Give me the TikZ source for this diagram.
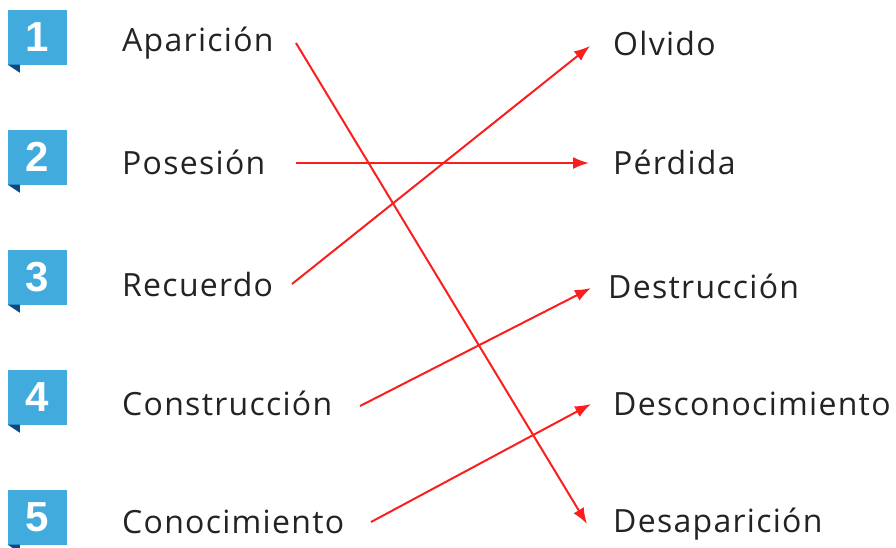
\documentclass[tikz,border=0pt]{standalone}
\usepackage{fontspec}
\setmainfont{Open Sans}[LetterSpace=4]
\newfontfamily\numfont{Liberation Sans}
\usepackage{xcolor}
\usepackage{tikz}
\usetikzlibrary{positioning}
\usetikzlibrary{arrows.meta}
\usetikzlibrary{calc}
\definecolor{boxblue}{RGB}{66,171,222}
\definecolor{flagblue}{RGB}{12,72,135}
\definecolor{linkred}{RGB}{250,30,30}
\definecolor{wordgray}{RGB}{35,35,35}
\tikzset{numbox/.style={fill=boxblue, minimum width=59pt, minimum height=55pt, inner sep=0pt, text=white, font=\numfont\bfseries\fontsize{42}{42}\selectfont}}
\tikzset{word/.style={anchor=west, inner sep=0pt, text=wordgray, font=\fontsize{32}{32}\selectfont}}
\tikzset{link/.style={draw=linkred, line width=2pt, -{Latex[length=16pt,width=12pt]}}}

\begin{document}
\begin{tikzpicture}[x=1pt, y=-1pt]
\useasboundingbox (0,0) rectangle (896,547);
\foreach \n/\y in {1/37, 2/157, 3/277, 4/397, 5/517} {
  \node[numbox] (b\n) at (37.5,\y) {\n};
  \fill[flagblue] (b\n.south west) -- ++(12,0) -- ++(0,8) -- cycle;
}

\node[word] (aparicion) at (122,43) {Aparición};
\node[word] (posesion) at (122,162) {Posesión};
\node[word] (recuerdo) at (122,284) {Recuerdo};
\node[word] (construccion) at (122,403) {Construcción};
\node[word] (conocimiento) at (122,522) {Conocimiento};

\node[word] (olvido) at (613,43) {Olvido};
\node[word] (perdida) at (613,162) {Pérdida};
\node[word] (destruccion) at (608,286) {Destrucción};
\node[word] (desconocimiento) at (613,404) {Desconocimiento};
\node[word] (desaparicion) at (613,524) {Desaparición};

\coordinate (s1) at (296,43);
\coordinate (s2) at (296,163);
\coordinate (s3) at (292,284);
\coordinate (s4) at (360,406);
\coordinate (s5) at (371,522);
\coordinate (t1) at (587,524);
\coordinate (t2) at (589,163);
\coordinate (t3) at (590,46);
\coordinate (t4) at (591,288);
\coordinate (t5) at (591,404);

\draw[link] (s1) -- (t1);
\draw[link] (s2) -- (t2);
\draw[link] (s3) -- (t3);
\draw[link] (s4) -- (t4);
\draw[link] (s5) -- (t5);
\end{tikzpicture}
\end{document}
